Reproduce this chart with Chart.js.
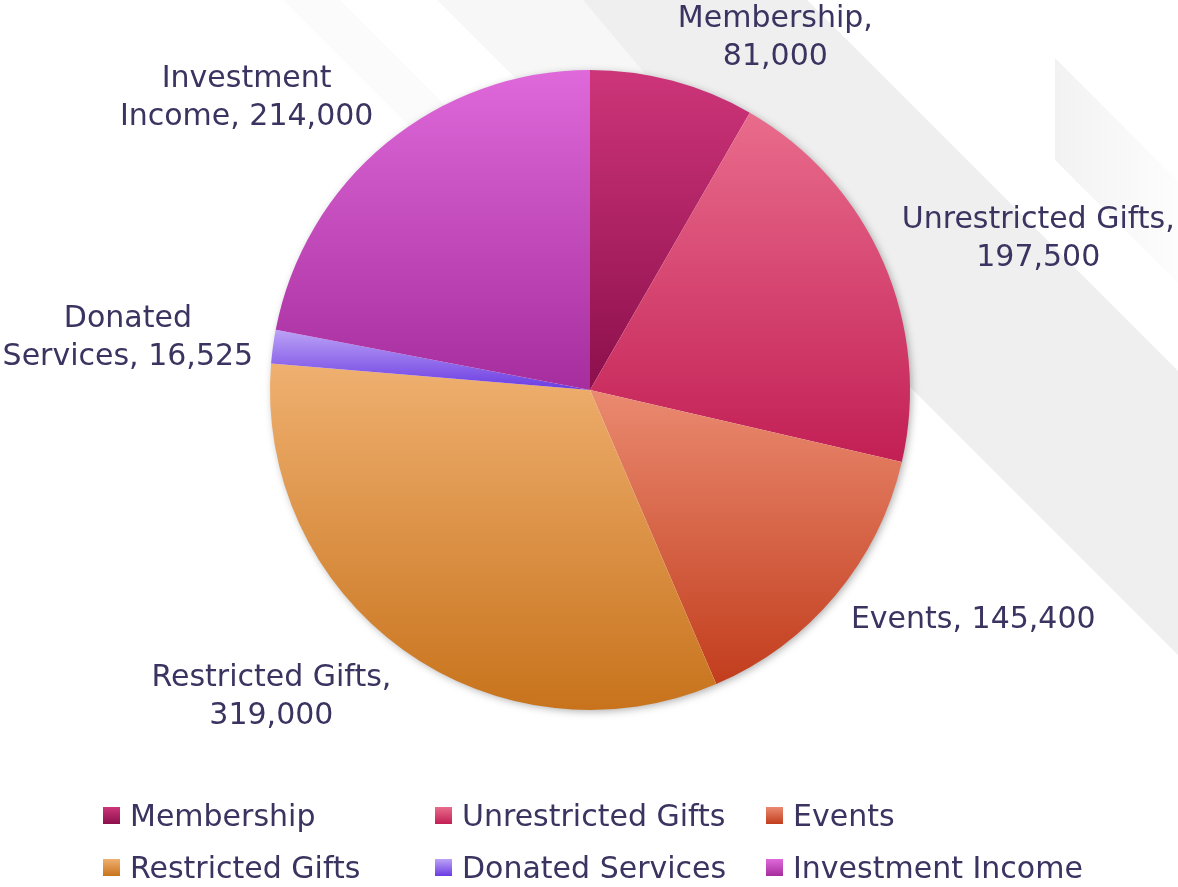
<!DOCTYPE html>
<html>
<head>
<meta charset="utf-8">
<script src="https://cdn.jsdelivr.net/npm/chart.js@4.4.1/dist/chart.umd.min.js"></script>
<style>
  html, body { margin: 0; padding: 0; background: #fff; }
  #wrap { position: relative; width: 1178px; height: 887px; overflow: hidden; }
  #chart { position: absolute; left: 0; top: 0; }
  #legend {
    position: absolute; left: 103px; top: 797px;
    display: grid; grid-template-columns: 332px 331px auto; row-gap: 16px;
    font-family: "DejaVu Sans", sans-serif; font-size: 30px; color: #3b3360;
  }
  .item { display: flex; align-items: center; height: 36px; white-space: nowrap; }
  .box { width: 17px; height: 17px; margin-right: 10px; flex: none; }
</style>
</head>
<body>
<div id="wrap">
  <canvas id="chart" width="1178" height="887"></canvas>
  <div id="legend"></div>
</div>
<script>
(function(){
  // data
  const categories = ['Membership', 'Unrestricted Gifts', 'Events', 'Restricted Gifts', 'Donated Services', 'Investment Income'];
  const values = [81000, 197500, 145400, 319000, 16525, 214000];
  // words kept on the first line of each data label (0 = one line)
  const labelBreak = [1, 2, 0, 2, 1, 1];

  // look
  const colorTop = ['#cd3579', '#e96c8c', '#ea8a70', '#efb070', '#bca3f6', '#df69da'];
  const colorBottom = ['#8c0f4c', '#c21f55', '#c23d1d', '#c8731c', '#6a3be2', '#a62d9e'];
  const textColor = '#3b3360';
  const font = '30px "DejaVu Sans", sans-serif';
  const lineH = 38;
  const LABEL_GAP = 20;

  const total = values.reduce((a, b) => a + b, 0);

  function sliceFill(ctx){
    const i = ctx.dataIndex;
    const chart = ctx.chart;
    const area = chart.chartArea;
    if(!area || i === undefined) return colorTop[i || 0];
    const cx = (area.left + area.right) / 2;
    const cy = (area.top + area.bottom) / 2;
    const r = Math.min(area.width, area.height) / 2;
    let start = 0;
    for(let j = 0; j < i; j++) start += values[j];
    const a0 = start / total * Math.PI * 2;
    const a1 = (start + values[i]) / total * Math.PI * 2;
    const ys = [cy, cy - r * Math.cos(a0), cy - r * Math.cos(a1)];
    if(a0 <= 0.0001 || a1 >= Math.PI * 2 - 0.0001) ys.push(cy - r);
    if(a0 <= Math.PI && a1 >= Math.PI) ys.push(cy + r);
    const g = chart.ctx.createLinearGradient(0, Math.min(...ys), 0, Math.max(...ys));
    g.addColorStop(0, colorTop[i]);
    g.addColorStop(1, colorBottom[i]);
    return g;
  }

  function poly(c, pts, fill){
    c.beginPath();
    c.moveTo(pts[0][0], pts[0][1]);
    for(let k = 1; k < pts.length; k++) c.lineTo(pts[k][0], pts[k][1]);
    c.closePath();
    c.fillStyle = fill;
    c.fill();
  }

  // grey diagonal stripes behind the pie
  const backdrop = {
    id: 'backdrop',
    beforeDraw(chart){
      const c = chart.ctx;
      const W = chart.width;
      c.save();
      c.fillStyle = '#ffffff';
      c.fillRect(0, 0, W, chart.height);
      poly(c, [[283, 0], [340, 0], [560, 220], [503, 220]], '#fbfbfb');
      poly(c, [[437, 0], [583, 0], [800, 217], [654, 217]], '#f7f7f7');
      poly(c, [[583, 0], [807, 0], [W, W - 807], [W, W - 523], [913, 390]], '#efefef');
      const g = c.createLinearGradient(1055, 0, W, 0);
      g.addColorStop(0, '#f2f2f2');
      g.addColorStop(1, '#fdfdfd');
      poly(c, [[1055, 58], [W, 58 + W - 1055], [W, 160 + W - 1055], [1055, 160]], g);
      c.restore();
    }
  };

  const pieShadow = {
    id: 'pieShadow',
    beforeDatasetsDraw(chart){
      const arc = chart.getDatasetMeta(0).data[0];
      if(!arc) return;
      const c = chart.ctx;
      c.save();
      c.shadowColor = 'rgba(0,0,0,0.35)';
      c.shadowBlur = 8;
      c.shadowOffsetX = 2;
      c.shadowOffsetY = 2;
      c.beginPath();
      c.arc(arc.x, arc.y, arc.outerRadius - 1, 0, Math.PI * 2);
      c.fillStyle = '#ffffff';
      c.fill();
      c.restore();
    }
  };

  function labelLines(i){
    const words = (categories[i] + ', ' + values[i].toLocaleString('en-US')).split(' ');
    const n = labelBreak[i];
    if(!n) return [words.join(' ')];
    return [words.slice(0, n).join(' '), words.slice(n).join(' ')];
  }

  const pieLabels = {
    id: 'pieLabels',
    afterDatasetsDraw(chart){
      const c = chart.ctx;
      const meta = chart.getDatasetMeta(0);
      c.save();
      c.font = font;
      c.fillStyle = textColor;
      c.textAlign = 'center';
      c.textBaseline = 'middle';
      meta.data.forEach((arc, i) => {
        const mid = (arc.startAngle + arc.endAngle) / 2;
        const hx = Math.cos(mid), vy = Math.sin(mid);
        const rr = arc.outerRadius + LABEL_GAP;
        const px = arc.x + hx * rr;
        const py = arc.y + vy * rr;
        const lines = labelLines(i);
        const w = Math.max(...lines.map(s => c.measureText(s).width));
        const h = lines.length * lineH;
        let left;
        if(hx > 0.25) left = px;
        else if(hx < -0.25) left = px - w;
        else left = px - w * (1 - hx) / 2;
        let top = py - h * (1 - vy) / 2;
        left = Math.max(0, Math.min(chart.width - w, left));
        top = Math.max(0, Math.min(chart.height - h, top));
        lines.forEach((s, k) => c.fillText(s, left + w / 2, top + lineH * (k + 0.5)));
      });
      c.restore();
    }
  };

  const chart = new Chart(document.getElementById('chart'), {
    type: 'pie',
    data: {
      labels: categories,
      datasets: [{
        data: values,
        backgroundColor: sliceFill,
        borderWidth: 0,
        hoverOffset: 0
      }]
    },
    options: {
      responsive: false,
      animation: false,
      layout: { padding: { top: 70, bottom: 177, left: 270, right: 268 } },
      plugins: {
        legend: { display: false },
        tooltip: { enabled: false }
      }
    },
    plugins: [backdrop, pieShadow, pieLabels]
  });

  // legend in page
  const legend = document.getElementById('legend');
  categories.forEach((name, i) => {
    const item = document.createElement('div');
    item.className = 'item';
    const box = document.createElement('span');
    box.className = 'box';
    box.style.background = 'linear-gradient(' + colorTop[i] + ',' + colorBottom[i] + ')';
    const txt = document.createElement('span');
    txt.textContent = name;
    item.appendChild(box);
    item.appendChild(txt);
    legend.appendChild(item);
  });
})();
</script>
</body>
</html>
